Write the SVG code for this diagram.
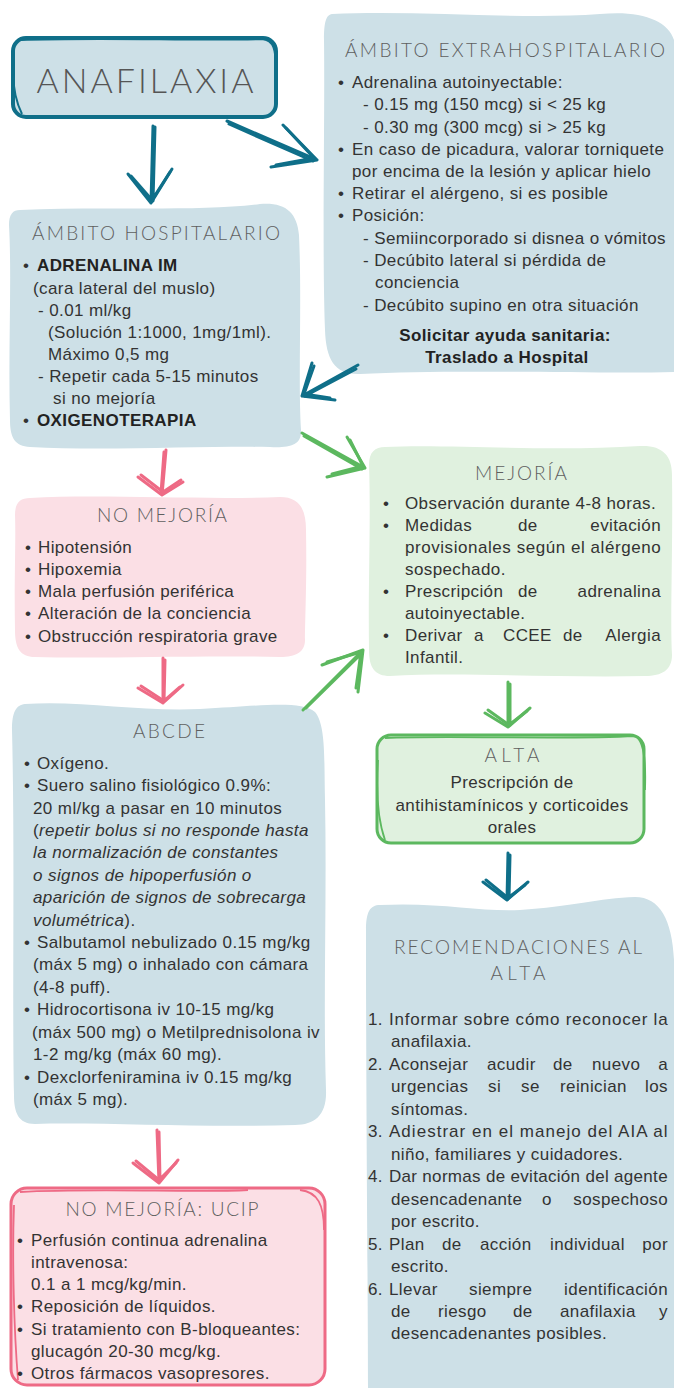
<svg xmlns="http://www.w3.org/2000/svg" width="674" height="1388" viewBox="0 0 674 1388">
<defs>
<style>
.t{font-family:'Liberation Sans',Arial,sans-serif;font-size:17px;letter-spacing:0.4px;fill:#333}
.b{font-weight:bold;fill:#222}
.i{font-style:italic}
.h{font-family:Lato,'Open Sans','Liberation Sans',sans-serif;font-weight:300;font-size:19px;fill:#5f5f5f;text-anchor:middle}
.c{text-anchor:middle}
.e{text-anchor:end}
.blue{fill:#cde0e7}
.pink{fill:#fbdfe5}
.green{fill:#e0f1df}
.ar{fill:none;stroke-width:3;stroke-linecap:round;stroke-linejoin:round}
.teal{stroke:#0f6f89}
.pk{stroke:#ee6a85}
.gr{stroke:#5cb85f}
</style>
</defs>
<rect width="674" height="1388" fill="#fff"/>

<g id="anafilaxia">
<rect x="13" y="38" width="263" height="79" rx="13" fill="#cde0e7" stroke="#0f6f89" stroke-width="4"/>
<path d="M20,40 C100,37 200,41 262,39 C274,40 276,50 276,70 M14,60 C12,80 15,100 22,114" fill="none" stroke="#0f6f89" stroke-width="2"/>
<text class="h" x="145" y="93" style="font-size:34px;fill:#555" textLength="217" lengthAdjust="spacing">ANAFILAXIA</text>
</g>

<g id="extrahospitalario">
<path class="blue" d="M332,14 C420,10 520,20 600,14 C640,10 668,20 674,40 L674,372 C600,374 450,369 360,374 C335,375 326,360 325,330 C322,250 325,120 324,40 C324,22 326,15 332,14 Z"/>
<text class="h" x="505" y="57" textLength="320" lengthAdjust="spacing">ÁMBITO EXTRAHOSPITALARIO</text>
<text class="t" x="338" y="88">•</text><text class="t" x="352" y="88">Adrenalina autoinyectable:</text>
<text class="t" x="363" y="110">- 0.15 mg (150 mcg) si &lt; 25 kg</text>
<text class="t" x="363" y="133">- 0.30 mg (300 mcg) si &gt; 25 kg</text>
<text class="t" x="338" y="155">•</text><text class="t" x="352" y="155">En caso de picadura, valorar torniquete</text>
<text class="t" x="352" y="177">por encima de la lesión y aplicar hielo</text>
<text class="t" x="338" y="199">•</text><text class="t" x="352" y="199">Retirar el alérgeno, si es posible</text>
<text class="t" x="338" y="221">•</text><text class="t" x="352" y="221">Posición:</text>
<text class="t" x="363" y="244">- Semiincorporado si disnea o vómitos</text>
<text class="t" x="363" y="266">- Decúbito lateral si pérdida de</text>
<text class="t" x="375" y="288">conciencia</text>
<text class="t" x="363" y="311">- Decúbito supino en otra situación</text>
<text class="t b c" x="505" y="341">Solicitar ayuda sanitaria:</text>
<text class="t b c" x="507" y="363">Traslado a Hospital</text>
</g>

<g id="hospitalario">
<path class="blue" d="M20,210 C100,206 200,212 260,204 C285,202 297,212 299,235 C302,300 298,380 301,430 C302,445 290,448 270,447 C200,446 100,451 30,447 C15,446 10,438 10,420 C8,350 12,280 9,225 C9,214 13,210 20,210 Z"/>
<text class="h" x="156" y="240" textLength="248" lengthAdjust="spacing">ÁMBITO HOSPITALARIO</text>
<text class="t" x="23" y="271">•</text><text class="t b" x="37" y="271">ADRENALINA IM</text>
<text class="t" x="33" y="294">(cara lateral del muslo)</text>
<text class="t" x="38" y="316">- 0.01 ml/kg</text>
<text class="t" x="48" y="338">(Solución 1:1000, 1mg/1ml).</text>
<text class="t" x="48" y="360">Máximo 0,5 mg</text>
<text class="t" x="38" y="382">- Repetir cada 5-15 minutos</text>
<text class="t" x="53" y="404">si no mejoría</text>
<text class="t" x="23" y="426">•</text><text class="t b" x="37" y="426">OXIGENOTERAPIA</text>
</g>

<g id="no-mejoria">
<path class="pink" d="M30,498 C100,494 200,500 280,497 C300,497 306,510 306,530 C307,580 305,620 305,640 C305,652 296,657 280,657 C200,655 100,659 35,657 C20,657 15,648 15,630 C14,580 16,540 15,515 C15,503 20,498 30,498 Z"/>
<text class="h" x="162" y="522" textLength="130" lengthAdjust="spacing">NO MEJORÍA</text>
<text class="t" x="25" y="553">•</text><text class="t" x="38" y="553">Hipotensión</text>
<text class="t" x="25" y="575">•</text><text class="t" x="38" y="575">Hipoxemia</text>
<text class="t" x="25" y="597">•</text><text class="t" x="38" y="597">Mala perfusión periférica</text>
<text class="t" x="25" y="619">•</text><text class="t" x="38" y="619">Alteración de la conciencia</text>
<text class="t" x="25" y="642">•</text><text class="t" x="38" y="642">Obstrucción respiratoria grave</text>
</g>

<g id="abcde">
<path class="blue" d="M25,704 C80,700 140,712 200,709 C260,706 300,700 315,712 C326,725 324,760 325,800 C327,900 323,1000 326,1090 C327,1115 315,1125 295,1125 C200,1128 100,1122 35,1124 C18,1124 14,1112 14,1095 C12,1000 15,850 12,730 C12,712 16,705 25,704 Z"/>
<text class="h" x="169" y="738" textLength="72" lengthAdjust="spacing">ABCDE</text>
<text class="t" x="24" y="769">•</text><text class="t" x="37" y="769">Oxígeno.</text>
<text class="t" x="24" y="791">•</text><text class="t" x="37" y="791">Suero salino fisiológico 0.9%:</text>
<text class="t" x="33" y="814">20 ml/kg a pasar en 10 minutos</text>
<text class="t" x="33" y="836">(<tspan class="i">repetir bolus si no responde hasta</tspan></text>
<text class="t i" x="33" y="858">la normalización de constantes</text>
<text class="t i" x="33" y="881">o signos de hipoperfusión o</text>
<text class="t i" x="33" y="903">aparición de signos de sobrecarga</text>
<text class="t" x="33" y="926"><tspan class="i">volumétrica</tspan>).</text>
<text class="t" x="24" y="948">•</text><text class="t" x="37" y="948">Salbutamol nebulizado 0.15 mg/kg</text>
<text class="t" x="33" y="970">(máx 5 mg) o inhalado con cámara</text>
<text class="t" x="33" y="993">(4-8 puff).</text>
<text class="t" x="24" y="1015">•</text><text class="t" x="37" y="1015">Hidrocortisona iv 10-15 mg/kg</text>
<text class="t" x="32" y="1038">(máx 500 mg) o Metilprednisolona iv</text>
<text class="t" x="33" y="1060">1-2 mg/kg (máx 60 mg).</text>
<text class="t" x="24" y="1083">•</text><text class="t" x="37" y="1083">Dexclorfeniramina iv 0.15 mg/kg</text>
<text class="t" x="33" y="1105">(máx 5 mg).</text>
</g>

<g id="mejoria">
<path class="green" d="M385,447 C450,444 550,452 640,446 C662,445 672,455 672,475 C673,550 670,620 672,655 C672,670 662,676 645,676 C560,678 460,672 390,676 C375,676 369,668 369,650 C368,580 371,520 369,465 C369,452 375,447 385,447 Z"/>
<text class="h" x="521" y="480" textLength="92" lengthAdjust="spacing">MEJORÍA</text>
<text class="t" x="383" y="509">•</text><text class="t" x="405" y="509">Observación durante 4-8 horas.</text>
<text class="t" x="383" y="531">•</text><text class="t" x="405" y="531">Medidas</text><text class="t" x="518" y="531">de</text><text class="t e" x="661" y="531">evitación</text>
<text class="t" x="405" y="553" textLength="256" lengthAdjust="spacing">provisionales según el alérgeno</text>
<text class="t" x="405" y="575">sospechado.</text>
<text class="t" x="383" y="597">•</text><text class="t" x="405" y="597">Prescripción</text><text class="t" x="518" y="597">de</text><text class="t e" x="661" y="597">adrenalina</text>
<text class="t" x="405" y="619">autoinyectable.</text>
<text class="t" x="383" y="641">•</text><text class="t" x="405" y="641">Derivar</text><text class="t" x="474" y="641">a</text><text class="t" x="503" y="641">CCEE</text><text class="t" x="563" y="641">de</text><text class="t e" x="661" y="641">Alergia</text>
<text class="t" x="405" y="663">Infantil.</text>
</g>

<g id="alta">
<rect x="377" y="735" width="267" height="108" rx="14" fill="#e0f1df" stroke="#5cb85f" stroke-width="3"/>
<path d="M385,738 C450,735 560,740 635,736 C644,740 646,760 645,790 M378,760 C376,790 378,820 385,840" fill="none" stroke="#5cb85f" stroke-width="1.8"/>
<text class="h" x="512" y="762" textLength="55" lengthAdjust="spacing">ALTA</text>
<text class="t c" x="512" y="788">Prescripción de</text>
<text class="t c" x="512" y="811">antihistamínicos y corticoides</text>
<text class="t c" x="512" y="833">orales</text>
</g>

<g id="recomendaciones">
<path class="blue" d="M380,905 C440,902 480,912 520,910 C570,907 600,898 635,897 C660,897 672,920 674,960 L674,1388 L368,1388 C368,1300 366,1100 366,930 C366,912 370,905 380,905 Z"/>
<text class="h" x="518" y="954" textLength="248" lengthAdjust="spacing">RECOMENDACIONES AL</text>
<text class="h" x="518" y="980" textLength="55" lengthAdjust="spacing">ALTA</text>
<text class="t" x="368" y="1025">1.</text><text class="t" x="389" y="1025" textLength="279" lengthAdjust="spacing">Informar sobre cómo reconocer la</text>
<text class="t" x="391" y="1047">anafilaxia.</text>
<text class="t" x="368" y="1070">2.</text><text class="t" x="389" y="1070">Aconsejar</text><text class="t" x="487" y="1070">acudir</text><text class="t" x="553" y="1070">de</text><text class="t" x="592" y="1070">nuevo</text><text class="t e" x="668" y="1070">a</text>
<text class="t" x="391" y="1092">urgencias</text><text class="t" x="488" y="1092">si</text><text class="t" x="521" y="1092">se</text><text class="t" x="560" y="1092">reinician</text><text class="t e" x="668" y="1092">los</text>
<text class="t" x="391" y="1115">síntomas.</text>
<text class="t" x="368" y="1137">3.</text><text class="t" x="389" y="1137" textLength="279" lengthAdjust="spacing">Adiestrar en el manejo del AIA al</text>
<text class="t" x="391" y="1160">niño, familiares y cuidadores.</text>
<text class="t" x="368" y="1182">4.</text><text class="t" x="389" y="1182" textLength="279" lengthAdjust="spacing">Dar normas de evitación del agente</text>
<text class="t" x="391" y="1205">desencadenante</text><text class="t" x="542" y="1205">o</text><text class="t e" x="668" y="1205">sospechoso</text>
<text class="t" x="391" y="1227">por escrito.</text>
<text class="t" x="368" y="1250">5.</text><text class="t" x="389" y="1250">Plan</text><text class="t" x="442" y="1250">de</text><text class="t" x="480" y="1250">acción</text><text class="t" x="550" y="1250">individual</text><text class="t e" x="668" y="1250">por</text>
<text class="t" x="391" y="1272">escrito.</text>
<text class="t" x="368" y="1295">6.</text><text class="t" x="389" y="1295">Llevar</text><text class="t" x="469" y="1295">siempre</text><text class="t e" x="668" y="1295">identificación</text>
<text class="t" x="391" y="1317">de</text><text class="t" x="438" y="1317">riesgo</text><text class="t" x="513" y="1317">de</text><text class="t" x="560" y="1317">anafilaxia</text><text class="t e" x="668" y="1317">y</text>
<text class="t" x="391" y="1339">desencadenantes posibles.</text>
</g>

<g id="ucip">
<rect x="11" y="1188" width="314" height="197" rx="16" fill="#fbdfe5" stroke="#ee6a85" stroke-width="3"/>
<path d="M20,1192 C100,1188 200,1193 248,1190 M14,1205 C12,1260 14,1330 18,1380 M300,1190 C318,1192 324,1205 324,1230" fill="none" stroke="#ee6a85" stroke-width="1.8"/>
<text class="h" x="162" y="1216" textLength="193" lengthAdjust="spacing">NO MEJORÍA: UCIP</text>
<text class="t" x="17" y="1246">•</text><text class="t" x="31" y="1246">Perfusión continua adrenalina</text>
<text class="t" x="31" y="1268">intravenosa:</text>
<text class="t" x="31" y="1290">0.1 a 1 mcg/kg/min.</text>
<text class="t" x="17" y="1312">•</text><text class="t" x="31" y="1312">Reposición de líquidos.</text>
<text class="t" x="17" y="1335">•</text><text class="t" x="31" y="1335">Si tratamiento con B-bloqueantes:</text>
<text class="t" x="31" y="1357">glucagón 20-30 mcg/kg.</text>
<text class="t" x="17" y="1379">•</text><text class="t" x="31" y="1379">Otros fármacos vasopresores.</text>
</g>

<g id="connectors">
<path class="ar teal" d="M153,126 L151,203 M128,174 L151,203 L172,169"/>
<path class="ar teal" d="M155,127 L153,201 M131,176 L152,200 L170,172" stroke-width="2"/>
<path class="ar teal" d="M227,121 L317,160 M283,125 L317,160 L271,167"/>
<path class="ar teal" d="M229,124 L313,161 M286,128 L314,158 L276,165" stroke-width="2"/>
<path class="ar teal" d="M358,365 L302,396 M312,363 L302,396 L335,400"/>
<path class="ar teal" d="M356,369 L305,396 M314,366 L304,394 L330,398" stroke-width="2"/>
<path class="ar gr" d="M302,433 L365,468 M347,437 L365,468 L327,477"/>
<path class="ar gr" d="M304,436 L362,469 M350,440 L363,466 L332,474" stroke-width="2"/>
<path class="ar pk" d="M166,450 L162,495 M138,477 L162,495 L183,482"/>
<path class="ar pk" d="M164,452 L161,493 M141,475 L163,492 L181,480" stroke-width="2"/>
<path class="ar pk" d="M163,658 L163,703 M138,688 L163,703 L183,685"/>
<path class="ar pk" d="M165,660 L164,701 M141,686 L164,701 L180,687" stroke-width="2"/>
<path class="ar gr" d="M303,710 L363,650 M322,665 L363,650 L358,692"/>
<path class="ar gr" d="M306,708 L361,654 M327,662 L361,652 L356,688" stroke-width="2"/>
<path class="ar gr" d="M508,682 L508,727 M485,713 L508,727 L530,708"/>
<path class="ar gr" d="M510,684 L510,725 M488,710 L509,725 L527,711" stroke-width="2"/>
<path class="ar teal" d="M508,853 L507,900 M483,882 L507,900 L528,882"/>
<path class="ar teal" d="M510,855 L509,898 M486,880 L508,898 L525,885" stroke-width="2"/>
<path class="ar pk" d="M157,1130 L159,1183 M133,1163 L159,1183 L178,1160"/>
<path class="ar pk" d="M159,1132 L160,1180 M136,1161 L159,1180 L176,1163" stroke-width="2"/>
</g>
</svg>
